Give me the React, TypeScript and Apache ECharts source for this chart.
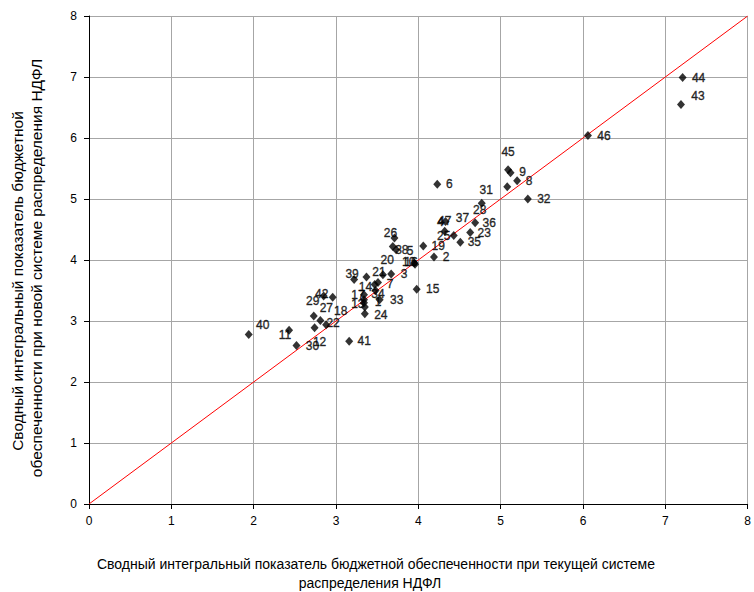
import React, { useEffect, useRef } from "react";
import * as echarts from "echarts";

// Region numbers (point labels)
const regionIds = [
  1, 2, 3, 4, 5, 6, 7, 8, 9, 10, 11, 12, 13, 14, 15, 16, 17, 18, 19, 20, 21, 22, 23, 24,
  25, 26, 27, 28, 29, 30, 31, 32, 33, 34, 35, 36, 37, 38, 39, 40, 41, 42, 43, 44, 45, 46, 47,
];
// Index under the current NDFL distribution system (x)
const currentSystem = [
  3.34, 4.19, 3.67, 3.37, 3.73, 4.23, 3.51, 5.2, 5.12, 3.47, 2.43, 2.74, 3.35, 3.48, 3.98, 3.96,
  3.34, 2.96, 4.06, 3.95, 3.57, 2.88, 4.63, 3.35, 4.43, 3.71, 2.81, 4.77, 2.73, 2.52, 5.08, 5.33,
  3.53, 3.34, 4.51, 4.69, 4.33, 3.69, 3.22, 1.94, 3.16, 2.85, 7.19, 7.21, 5.09, 6.06, 4.32,
];
// Index under the new NDFL distribution system (y)
const newSystem = [
  3.3, 4.05, 3.77, 3.72, 4.17, 5.24, 3.63, 5.3, 5.43, 3.6, 2.85, 2.89, 3.23, 3.5, 3.52, 3.93,
  3.35, 3.39, 4.23, 3.95, 3.76, 2.94, 4.45, 3.12, 4.4, 4.36, 3.01, 4.93, 3.08, 2.6, 5.2, 5.0,
  3.35, 3.43, 4.29, 4.61, 4.63, 4.22, 3.68, 2.78, 2.67, 3.41, 6.55, 6.99, 5.48, 6.04, 4.47,
];
// Diagonal reference line y = x
const diagonal = [0, 8];

const xTitle1 = "Сводный интегральный показатель бюджетной обеспеченности при текущей системе";
const xTitle2 = "распределения НДФЛ";
const yTitle1 = "Сводный интегральный показатель бюджетной";
const yTitle2 = "обеспеченности при новой системе распределения НДФЛ";

// label placement (pixels from the marker centre) – styling only
const labelOffsets: number[][] = [
  [14, -1], [12, 0], [13, 0], [74, -55], [14, 1], [12, 0], [12, 1], [12, 0], [12, -1], [34, -22],
  [-4, 5], [5, 14], [-7, -3], [-10, -4], [16, 0], [-4, -2], [-6, -5], [8, 14], [15, 0], [-27, -3],
  [-4, -3], [7, -2], [14, 0], [16, 1], [-10, 0], [-4, -5], [6, -12], [-2, 7], [-1, -15], [16, 1],
  [-21, 3], [16, 0], [17, 0], [14, -1], [14, 0], [14, 0], [17, -4], [9, 3], [-2, -6], [14, -9],
  [15, 0], [-2, -2], [17, -8], [16, 0], [0, -18], [16, 0], [0, -10],
];

const FONT = "'Liberation Sans', Arial, sans-serif";

export default function App() {
  const ref = useRef<HTMLDivElement>(null);
  useEffect(() => {
    if (!ref.current) return;
    const chart = echarts.init(ref.current, undefined, { renderer: "svg" });
    const axisCommon = {
      type: "value" as const,
      min: 0,
      max: 8,
      interval: 1,
      axisLine: { show: true, onZero: false, lineStyle: { color: "#000", width: 1 } },
      axisTick: { show: true, inside: false, length: 5, lineStyle: { color: "#000" } },
      splitLine: { show: true, lineStyle: { color: "#a6a6a6", width: 1 } },
      axisLabel: { color: "#000", fontSize: 12, fontFamily: FONT },
    };
    chart.setOption({
      animation: false,
      backgroundColor: "#fff",
      grid: { left: 89, top: 16, width: 662, height: 488, containLabel: false },
      xAxis: { ...axisCommon, axisLabel: { ...axisCommon.axisLabel, margin: 11 } },
      yAxis: { ...axisCommon, axisLabel: { ...axisCommon.axisLabel, margin: 12 } },
      graphic: [
        {
          type: "text",
          x: 376,
          y: 564,
          style: { text: xTitle1, fill: "#000", font: `14px ${FONT}`, textAlign: "center", textVerticalAlign: "middle" },
        },
        {
          type: "text",
          x: 370,
          y: 583,
          style: { text: xTitle2, fill: "#000", font: `14px ${FONT}`, textAlign: "center", textVerticalAlign: "middle" },
        },
        {
          type: "text",
          x: 17,
          y: 281,
          rotation: Math.PI / 2,
          style: { text: yTitle1, fill: "#000", font: `15.5px ${FONT}`, textAlign: "center", textVerticalAlign: "middle" },
        },
        {
          type: "text",
          x: 36,
          y: 268,
          rotation: Math.PI / 2,
          style: { text: yTitle2, fill: "#000", font: `15.5px ${FONT}`, textAlign: "center", textVerticalAlign: "middle" },
        },
      ],
      series: [
        {
          type: "line",
          data: diagonal.map((v) => [v, v]),
          symbol: "none",
          lineStyle: { color: "#ff0000", width: 1 },
          silent: true,
          z: 1,
        },
        {
          type: "scatter",
          symbol: "diamond",
          symbolSize: [8, 9],
          itemStyle: { color: "#000" },
          z: 2,
          label: {
            show: true,
            position: "inside",
            formatter: "{b}",
            color: "#000",
            fontSize: 12,
            fontFamily: FONT,
            textBorderColor: "#000",
            textBorderWidth: 0.4,
          },
          data: regionIds.map((id, i) => ({
            name: String(id),
            value: [currentSystem[i], newSystem[i]],
            label: { offset: labelOffsets[i] },
          })),
        },
      ],
    });
    return () => chart.dispose();
  }, []);
  return (
    <div
      ref={ref}
      style={{ position: "fixed", left: 0, top: 0, width: 754, height: 592, background: "#fff" }}
    />
  );
}
